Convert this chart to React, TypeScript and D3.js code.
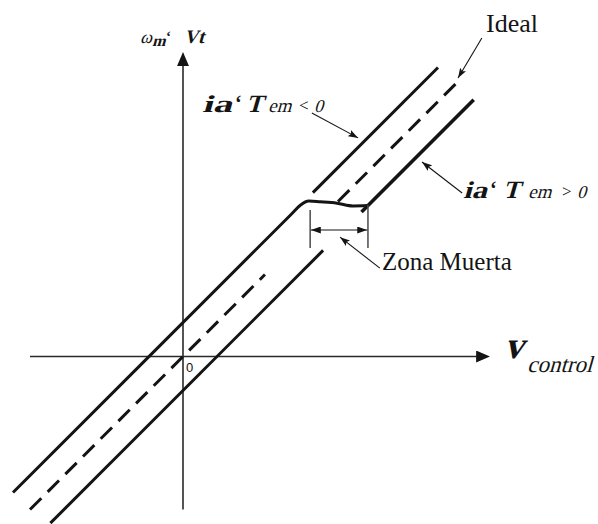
import React from 'react';
import * as d3 from 'd3';

const W = 598;
const H = 524;

// Control-voltage / speed plane, one unit = dead-zone half width
const ORIGIN_PX = [183, 356.5];
const UNIT_PX = 34;

// Axis extents (control units)
const axisXRange: [number, number] = [-4.5, 8.65];
const axisYRange: [number, number] = [-4.5, 8.57];

// Characteristic lines: ideal y = x, Tem<0 branch y = x + 1, Tem>0 branch y = x - 1
const idealSegments: [number, number][] = [[-4.5, 2.41], [4.56, 8.06]];
const negBranchUpper: [number, number] = [3.82, 7.5];
const posBranchLower: [number, number] = [-3.9, 4.12];
const posBranchUpper: [number, number] = [5.25, 8.55];

// Operating trace: Tem<0 branch rising into the dead zone, crossing to the Tem>0 branch
const traceX = [-5.0, 3.2, 3.45, 3.7, 4.03, 4.53, 5.0, 5.44];
const traceY = [-4.0, 4.2, 4.45, 4.57, 4.55, 4.51, 4.43, 4.44];

// Dead-zone dimension
const deadZoneEdges = [3.74, 5.44];
const deadZoneTickTop = [4.31, 4.46];
const deadZoneTickBottom = 3.19;
const deadZoneArrowY = 3.72;

// Callout arrows: [tailX, tailY, headX, headY]
const calloutIdeal = [8.79, 9.37, 8.09, 8.19];
const calloutPos = [8.21, 4.81, 7.03, 5.72];
const calloutNeg = [3.79, 7.16, 5.15, 6.43];
const calloutZone = [5.79, 2.6, 4.62, 3.51];

const x = d3.scaleLinear().domain([0, 1]).range([ORIGIN_PX[0], ORIGIN_PX[0] + UNIT_PX]);
const y = d3.scaleLinear().domain([0, 1]).range([ORIGIN_PX[1], ORIGIN_PX[1] - UNIT_PX]);

const INK = '#141414';
const SERIF = '"Liberation Serif", "Times New Roman", serif';

function seg(x0: number, y0: number, x1: number, y1: number) {
  return d3.line<[number, number]>().x(d => x(d[0])).y(d => y(d[1]))([[x0, y0], [x1, y1]]) as string;
}

function Callout({ c }: { c: number[] }) {
  return (
    <path d={seg(c[0], c[1], c[2], c[3])} stroke={INK} strokeWidth={1.1} fill="none" markerEnd="url(#thinHead)" />
  );
}

// Slanted serif glyphs for math symbols
function M({ px, py, size, bold = false, slant = true, children, len }: {
  px: number; py: number; size: number; bold?: boolean; slant?: boolean; children: React.ReactNode; len?: number;
}) {
  return (
    <text
      transform={`translate(${px},${py})${slant ? ' skewX(-16)' : ''}`}
      fontFamily={SERIF}
      fontWeight={bold ? 700 : 400}
      fontSize={size}
      fill={INK}
      textLength={len}
      lengthAdjust={len ? 'spacingAndGlyphs' : undefined}
    >
      {children}
    </text>
  );
}

export default function App() {
  const trace = d3
    .line<number>()
    .x(d => x(d))
    .y((_, i) => y(traceY[i]))
    .curve(d3.curveMonotoneX)(traceX) as string;

  return (
    <svg width={W} height={H} style={{ position: 'absolute', left: 0, top: 0, background: '#fff' }}>
      <defs>
        <marker id="axisHead" viewBox="0 0 14 12" refX={1} refY={6} markerWidth={14} markerHeight={12} markerUnits="userSpaceOnUse" orient="auto">
          <path d="M0,0 L14,6 L0,12 z" fill={INK} />
        </marker>
        <marker id="thinHead" viewBox="0 0 10 7" refX={10} refY={3.5} markerWidth={10} markerHeight={7} markerUnits="userSpaceOnUse" orient="auto">
          <path d="M0,0 L10,3.5 L0,7 L2,3.5 z" fill={INK} />
        </marker>
        <marker id="dimHead" viewBox="0 0 10 7" refX={10} refY={3.5} markerWidth={10} markerHeight={7} markerUnits="userSpaceOnUse" orient="auto-start-reverse">
          <path d="M0,0 L10,3.5 L0,7 z" fill={INK} />
        </marker>
      </defs>

      {/* axes */}
      <path d={seg(axisXRange[0], 0, axisXRange[1], 0)} stroke="#2a2a2a" strokeWidth={1.6} markerEnd="url(#axisHead)" />
      <path d={seg(0, axisYRange[0], 0, axisYRange[1])} stroke="#2a2a2a" strokeWidth={1.6} markerEnd="url(#axisHead)" />
      <text x={x(0.09)} y={y(-0.46)} fontFamily='"Liberation Sans", Arial, sans-serif' fontSize={13} fill={INK}>0</text>

      {/* ideal characteristic */}
      {idealSegments.map((s, i) => (
        <path key={i} d={seg(s[0], s[0], s[1], s[1])} stroke={INK} strokeWidth={3} strokeDasharray="16,9" fill="none" />
      ))}

      {/* Tem<0 branch, upper part */}
      <path d={seg(negBranchUpper[0], negBranchUpper[0] + 1, negBranchUpper[1], negBranchUpper[1] + 1)} stroke={INK} strokeWidth={3} fill="none" />
      {/* Tem>0 branch */}
      <path d={seg(posBranchLower[0], posBranchLower[0] - 1, posBranchLower[1], posBranchLower[1] - 1)} stroke={INK} strokeWidth={3} fill="none" />
      <path d={seg(posBranchUpper[0], posBranchUpper[0] - 1, posBranchUpper[1], posBranchUpper[1] - 1)} stroke={INK} strokeWidth={3.6} fill="none" />
      {/* operating trace through the dead zone */}
      <path d={trace} stroke={INK} strokeWidth={3} fill="none" strokeLinejoin="round" />

      {/* dead-zone dimension */}
      {deadZoneEdges.map((e, i) => (
        <path key={i} d={seg(e, deadZoneTickBottom, e, deadZoneTickTop[i])} stroke="#4a4a4a" strokeWidth={1.5} />
      ))}
      <path
        d={seg(deadZoneEdges[0] + 0.02, deadZoneArrowY, deadZoneEdges[1] - 0.02, deadZoneArrowY)}
        stroke={INK}
        strokeWidth={1.2}
        markerStart="url(#dimHead)"
        markerEnd="url(#dimHead)"
      />

      {/* callouts */}
      <Callout c={calloutIdeal} />
      <Callout c={calloutPos} />
      <Callout c={calloutNeg} />
      <Callout c={calloutZone} />

      {/* plain labels */}
      <text x={486} y={32} fontFamily={SERIF} fontSize={26} fill={INK}>Ideal</text>
      <text x={382} y={270} fontFamily={SERIF} fontSize={25} fill={INK}>Zona Muerta</text>

      {/* ordinate label */}
      <M px={140} py={43} size={18}>ω</M>
      <M px={152} py={46} size={16} bold>m</M>
      <M px={166} py={41} size={15} bold slant={false}>‘</M>
      <M px={184} py={43} size={19} bold>Vt</M>

      {/* abscissa label */}
      <M px={504} py={358} size={38} bold>v</M>
      <M px={527} py={372} size={23}>control</M>

      {/* Tem<0 label */}
      <M px={202} py={112} size={24} bold len={30}>ia</M>
      <M px={235} py={110} size={20} bold slant={false}>‘</M>
      <M px={246} py={112} size={25} bold>T</M>
      <M px={268} py={112} size={19}>em</M>
      <M px={299} py={111} size={17} slant={false}>&lt;</M>
      <M px={314} py={112} size={18}>0</M>

      {/* Tem>0 label */}
      <M px={463} py={198} size={24} bold len={24}>ia</M>
      <M px={490} py={196} size={20} bold slant={false}>‘</M>
      <M px={503} py={198} size={25} bold>T</M>
      <M px={528} py={198} size={19}>em</M>
      <M px={562} py={197} size={17} slant={false}>&gt;</M>
      <M px={577} py={198} size={18}>0</M>
    </svg>
  );
}
